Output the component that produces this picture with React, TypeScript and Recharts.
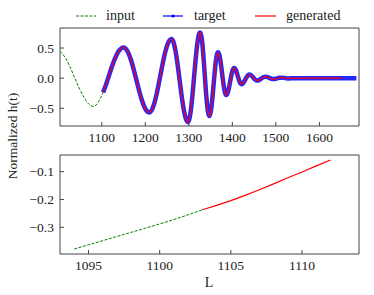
import React from 'react';
import { LineChart, Line, XAxis, YAxis } from 'recharts';

// top panel: input (before the cut) and target / generated (after it)
const inputL = [1004, 1017, 1028, 1038, 1049, 1060, 1070, 1081, 1092, 1098, 1103];
const inputH = [0.445, 0.33, 0.17, 0.0, -0.18, -0.33, -0.43, -0.47, -0.4, -0.318, -0.237];

const targetL = [
  1103, 1109, 1116, 1122, 1128, 1134, 1140, 1145, 1150, 1156, 1162, 1168, 1174, 1180, 1186, 1192,
  1198, 1204, 1209, 1215, 1221, 1227, 1233, 1239, 1245, 1250, 1255, 1260, 1265, 1270, 1274, 1279,
  1284, 1288, 1293, 1298, 1302, 1305, 1309, 1312, 1316, 1319, 1323, 1326, 1329, 1331, 1334, 1337,
  1339, 1342, 1344, 1347, 1350, 1352, 1355, 1357, 1360, 1362, 1365, 1367, 1370, 1372, 1374, 1377,
  1379, 1381, 1384, 1386, 1388, 1391, 1393, 1395, 1397, 1400, 1402, 1404, 1406, 1408, 1410, 1413,
  1415, 1417, 1419, 1421, 1424, 1426, 1428, 1430, 1433, 1435, 1437, 1439, 1442, 1444, 1446, 1448,
  1451, 1453, 1455, 1457, 1462, 1466, 1471, 1476, 1481, 1485, 1490, 1494, 1499, 1503, 1508, 1512,
  1521, 1530, 1540, 1555, 1570, 1585, 1600, 1615, 1630, 1645, 1650, 1660, 1675, 1685,
];
const targetH = [
  -0.237, -0.123, 0.031, 0.163, 0.284, 0.386, 0.46, 0.497, 0.51, 0.483, 0.404, 0.281, 0.126, -0.044, -0.213, -0.363,
  -0.48, -0.551, -0.57, -0.529, -0.411, -0.232, -0.016, 0.207, 0.408, 0.538, 0.621, 0.65, 0.592, 0.427, 0.237, -0.04,
  -0.317, -0.507, -0.672, -0.73, -0.656, -0.512, -0.232, 0.015, 0.338, 0.542, 0.718, 0.76, 0.691, 0.574, 0.319, 0.013,
  -0.189, -0.444, -0.561, -0.63, -0.572, -0.475, -0.264, -0.1, 0.141, 0.275, 0.404, 0.43, 0.387, 0.315, 0.218, 0.046,
  -0.068, -0.165, -0.261, -0.28, -0.266, -0.2, -0.132, -0.055, 0.022, 0.117, 0.156, 0.17, 0.161, 0.135, 0.095, 0.023,
  -0.025, -0.065, -0.091, -0.1, -0.089, -0.071, -0.047, -0.02, 0.02, 0.041, 0.055, 0.06, 0.053, 0.042, 0.027, 0.01,
  -0.015, -0.028, -0.037, -0.04, -0.029, -0.01, 0.014, 0.025, 0.018, 0.005, -0.01, -0.015, -0.011, -0.004, 0.005, 0.008,
  0.002, -0.004, 0, 0, 0, 0, 0, 0, 0, 0, 0, 0, 0, 0,
];
const generatedEndL = 1650;

// bottom panel: zoom around the cut
const zoomInputL = [1094, 1095, 1096, 1097, 1098, 1099, 1100, 1101, 1102, 1103];
const zoomInputH = [-0.378, -0.363, -0.348, -0.333, -0.318, -0.303, -0.288, -0.272, -0.255, -0.237];
const zoomGenL = [1103, 1104, 1105, 1106, 1107, 1108, 1109, 1110, 1111, 1112];
const zoomGenH = [-0.237, -0.221, -0.204, -0.185, -0.165, -0.144, -0.122, -0.101, -0.079, -0.058];

const topTicksX = [1100, 1200, 1300, 1400, 1500, 1600];
const topTicksY = [-0.5, 0, 0.5];
const zoomTicksX = [1095, 1100, 1105, 1110];
const zoomTicksY = [-0.3, -0.2, -0.1];

const FONT = '"Liberation Serif", "DejaVu Serif", "Times New Roman", Times, serif';
const GREEN = '#008000';
const BLUE = '#0000ff';
const RED = '#ff0000';
const AXIS = '#444';

const pairs = (xs: number[], ys: number[]) => xs.map((L, i) => ({ L, h: ys[i] }));
const fmt = (v: number) => (v < 0 ? '\u2212' : '') + Math.abs(v).toFixed(1);

const inputData = pairs(inputL, inputH);
const targetData = pairs(targetL, targetH);
const generatedData = targetData.filter((d) => d.L <= generatedEndL);
const zoomInput = pairs(zoomInputL, zoomInputH);
const zoomGen = pairs(zoomGenL, zoomGenH);

const tickStyle = { fill: '#222', fontSize: 13.5 };

// four-sided frame with inward ticks; top/right axes need a non-zero box to be drawn
const frame = (xDomain: number[], xTicks: number[], yDomain: number[], yTicks: number[], bottomH: number, ghost: { L: number; h: number }[]) => [
  <XAxis key="xb" xAxisId="b" dataKey="L" type="number" domain={xDomain} ticks={xTicks} allowDataOverflow
    orientation="bottom" height={bottomH} tickSize={-4} tickMargin={10} stroke={AXIS} tick={tickStyle} />,
  <XAxis key="xt" xAxisId="t" dataKey="L" type="number" domain={xDomain} ticks={xTicks} allowDataOverflow
    orientation="top" height={1} tickSize={-4} stroke={AXIS} tick={false} />,
  <YAxis key="yl" yAxisId="l" type="number" domain={yDomain} ticks={yTicks} allowDataOverflow
    width={60} tickSize={-4} tickMargin={10} stroke={AXIS} tick={tickStyle} tickFormatter={fmt} />,
  <YAxis key="yr" yAxisId="r" orientation="right" type="number" domain={yDomain} ticks={yTicks} allowDataOverflow
    width={1} tickSize={-4} stroke={AXIS} tick={false} />,
  <Line key="ghost" xAxisId="t" yAxisId="r" data={ghost} dataKey="h" stroke="none" dot={false}
    isAnimationActive={false} />,
];

const Legend = () => (
  <g fontSize={14} fill="#222">
    <line x1={76} x2={96} y1={16} y2={16} stroke={GREEN} strokeWidth={1} strokeDasharray="3 1.5" />
    <text x={106} y={20}>input</text>
    <line x1={163} x2={183} y1={16} y2={16} stroke={BLUE} strokeWidth={1.2} />
    <circle cx={173} cy={16} r={1.6} fill={BLUE} />
    <text x={194} y={20}>target</text>
    <line x1={255} x2={276} y1={16} y2={16} stroke={RED} strokeWidth={1.2} />
    <text x={286} y={20}>generated</text>
  </g>
);

export default function App() {
  return (
    <div style={{ position: 'relative', width: 374, height: 295, background: '#fff' }}>
      <style>{`body{margin:0} svg text, svg tspan { font-family: ${FONT} !important; }`}</style>
      <div style={{ position: 'absolute', left: 0, top: 0 }}>
        <LineChart width={374} height={150} margin={{ top: 27, right: 14, bottom: 0, left: 0 }}>
          {frame([1004, 1691], topTicksX, [-0.795, 0.833], topTicksY, 24, targetData)}
          <Line xAxisId="b" yAxisId="l" data={inputData} dataKey="h" type="monotone" stroke={GREEN}
            strokeWidth={1} strokeDasharray="3 1.5" dot={false} isAnimationActive={false} />
          <Line xAxisId="b" yAxisId="l" data={targetData} dataKey="h" type="monotone" stroke={BLUE}
            strokeWidth={4.5} strokeOpacity={0.85} dot={false} isAnimationActive={false} />
          <Line xAxisId="b" yAxisId="l" data={generatedData} dataKey="h" type="monotone" stroke={RED}
            strokeWidth={1.2} dot={false} isAnimationActive={false} />
        </LineChart>
      </div>
      <div style={{ position: 'absolute', left: 0, top: 140 }}>
        <LineChart width={374} height={155} margin={{ top: 14, right: 14, bottom: 0, left: 0 }}>
          {frame([1093, 1114], zoomTicksX, [-0.396, -0.04], zoomTicksY, 41, zoomGen)}
          <Line xAxisId="b" yAxisId="l" data={zoomInput} dataKey="h" type="linear" stroke={GREEN}
            strokeWidth={1} strokeDasharray="3 1.5" dot={false} isAnimationActive={false} />
          <Line xAxisId="b" yAxisId="l" data={zoomGen} dataKey="h" type="linear" stroke={RED}
            strokeWidth={1.2} dot={false} isAnimationActive={false} />
        </LineChart>
      </div>
      <svg width={374} height={295} style={{ position: 'absolute', left: 0, top: 0, pointerEvents: 'none' }}>
        <Legend />
        <text x={209} y={287} textAnchor="middle" fontSize={14} fill="#222">L</text>
        <text transform="translate(17,136) rotate(-90)" textAnchor="middle" fontSize={13.5} fill="#222">
          Normalized h(t)
        </text>
      </svg>
    </div>
  );
}
